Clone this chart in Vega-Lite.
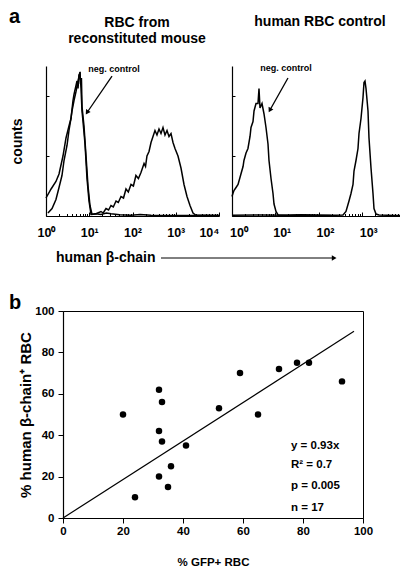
{
  "$schema": "https://vega.github.io/schema/vega-lite/v6.json",
  "padding": {"left": 8, "top": 6, "right": 0, "bottom": 0},
  "background": "white",
  "config": {
    "font": "Liberation Sans",
    "view": {"stroke": null},
    "axis": {"domainColor": "black", "tickColor": "black", "labelColor": "black", "titleColor": "black", "labelFontWeight": "bold", "titleFontWeight": "bold", "grid": false, "labelFont": "Liberation Sans", "titleFont": "Liberation Sans", "domainWidth": 1.2, "tickWidth": 1},
    "text": {"font": "Liberation Sans", "fontWeight": "bold", "color": "black"}
  },
  "datasets": {
    "histL": [
      {"x": 1.0, "c": 12, "s": "neg"}, {"x": 1.31, "c": 18, "s": "neg"}, {"x": 1.7, "c": 23, "s": "neg"}, {"x": 2.0, "c": 28, "s": "neg"}, {"x": 2.47, "c": 40, "s": "neg"}, {"x": 2.9, "c": 52, "s": "neg"}, {"x": 3.4, "c": 60, "s": "neg"}, {"x": 3.78, "c": 65, "s": "neg"}, {"x": 4.21, "c": 77, "s": "neg"}, {"x": 4.44, "c": 81, "s": "neg"}, {"x": 4.94, "c": 87, "s": "neg"}, {"x": 5.21, "c": 90, "s": "neg"}, {"x": 5.5, "c": 85, "s": "neg"}, {"x": 5.79, "c": 94, "s": "neg"}, {"x": 6.11, "c": 95, "s": "neg"}, {"x": 6.45, "c": 85, "s": "neg"}, {"x": 6.8, "c": 70, "s": "neg"}, {"x": 7.17, "c": 63, "s": "neg"}, {"x": 7.98, "c": 48, "s": "neg"}, {"x": 8.87, "c": 25, "s": "neg"}, {"x": 9.87, "c": 10, "s": "neg"}, {"x": 10.97, "c": 1, "s": "neg"}, {"x": 14, "c": 1.5, "s": "neg"}, {"x": 18.7, "c": 1, "s": "neg"}, {"x": 25, "c": 2, "s": "neg"}, {"x": 31.8, "c": 1.5, "s": "neg"}, {"x": 50, "c": 0.8, "s": "neg"}, {"x": 92.6, "c": 0.5, "s": "neg"}, {"x": 150, "c": 1, "s": "neg"}, {"x": 268, "c": 0.5, "s": "neg"}, {"x": 600, "c": 0.3, "s": "neg"}, {"x": 1321, "c": 0.3, "s": "neg"}, {"x": 10000, "c": 0.3, "s": "neg"},
      {"x": 1.11, "c": 2, "s": "sample"}, {"x": 1.38, "c": 5, "s": "sample"}, {"x": 1.7, "c": 11, "s": "sample"}, {"x": 2.0, "c": 19, "s": "sample"}, {"x": 2.34, "c": 27, "s": "sample"}, {"x": 2.61, "c": 37, "s": "sample"}, {"x": 3.06, "c": 47, "s": "sample"}, {"x": 3.4, "c": 57, "s": "sample"}, {"x": 3.78, "c": 65, "s": "sample"}, {"x": 3.99, "c": 70, "s": "sample"}, {"x": 4.44, "c": 77, "s": "sample"}, {"x": 4.94, "c": 83, "s": "sample"}, {"x": 5.5, "c": 90, "s": "sample"}, {"x": 5.79, "c": 93, "s": "sample"}, {"x": 6.11, "c": 96, "s": "sample"}, {"x": 6.3, "c": 88, "s": "sample"}, {"x": 6.6, "c": 92, "s": "sample"}, {"x": 6.8, "c": 73, "s": "sample"}, {"x": 7.56, "c": 60, "s": "sample"}, {"x": 8.42, "c": 40, "s": "sample"}, {"x": 9.36, "c": 20, "s": "sample"}, {"x": 10.4, "c": 7, "s": "sample"}, {"x": 11.6, "c": 1, "s": "sample"}, {"x": 14.3, "c": 1.5, "s": "sample"}, {"x": 18.7, "c": 3, "s": "sample"}, {"x": 21, "c": 2, "s": "sample"}, {"x": 24.4, "c": 5, "s": "sample"}, {"x": 28, "c": 4, "s": "sample"}, {"x": 31.8, "c": 7, "s": "sample"}, {"x": 36, "c": 6, "s": "sample"}, {"x": 41.6, "c": 10, "s": "sample"}, {"x": 47, "c": 9, "s": "sample"}, {"x": 54.2, "c": 13, "s": "sample"}, {"x": 62, "c": 12, "s": "sample"}, {"x": 70.7, "c": 18, "s": "sample"}, {"x": 80, "c": 16, "s": "sample"}, {"x": 92.3, "c": 21, "s": "sample"}, {"x": 105, "c": 20, "s": "sample"}, {"x": 120, "c": 27, "s": "sample"}, {"x": 137, "c": 25, "s": "sample"}, {"x": 157, "c": 29, "s": "sample"}, {"x": 185, "c": 35, "s": "sample"}, {"x": 200, "c": 33, "s": "sample"}, {"x": 216, "c": 40, "s": "sample"}, {"x": 241, "c": 43, "s": "sample"}, {"x": 268, "c": 49, "s": "sample"}, {"x": 298, "c": 53, "s": "sample"}, {"x": 331, "c": 57, "s": "sample"}, {"x": 368, "c": 54, "s": "sample"}, {"x": 410, "c": 58, "s": "sample"}, {"x": 456, "c": 55, "s": "sample"}, {"x": 507, "c": 59, "s": "sample"}, {"x": 564, "c": 54, "s": "sample"}, {"x": 628, "c": 57, "s": "sample"}, {"x": 698, "c": 53, "s": "sample"}, {"x": 777, "c": 55, "s": "sample"}, {"x": 864, "c": 49, "s": "sample"}, {"x": 961, "c": 45, "s": "sample"}, {"x": 1127, "c": 40, "s": "sample"}, {"x": 1322, "c": 32, "s": "sample"}, {"x": 1552, "c": 21, "s": "sample"}, {"x": 1820, "c": 13, "s": "sample"}, {"x": 2136, "c": 7, "s": "sample"}, {"x": 2506, "c": 2, "s": "sample"}, {"x": 2940, "c": 0.5, "s": "sample"}, {"x": 5012, "c": 0.5, "s": "sample"}, {"x": 10000, "c": 0.3, "s": "sample"}
    ],
    "histR": [
      {"x": 1.0, "c": 13, "s": "neg"}, {"x": 1.05, "c": 15, "s": "neg"}, {"x": 1.11, "c": 17, "s": "neg"}, {"x": 1.24, "c": 19, "s": "neg"}, {"x": 1.38, "c": 21, "s": "neg"}, {"x": 1.61, "c": 28, "s": "neg"}, {"x": 1.8, "c": 33, "s": "neg"}, {"x": 1.89, "c": 37, "s": "neg"}, {"x": 2.11, "c": 42, "s": "neg"}, {"x": 2.34, "c": 45, "s": "neg"}, {"x": 2.61, "c": 53, "s": "neg"}, {"x": 2.75, "c": 59, "s": "neg"}, {"x": 3.06, "c": 63, "s": "neg"}, {"x": 3.23, "c": 70, "s": "neg"}, {"x": 3.59, "c": 75, "s": "neg"}, {"x": 3.99, "c": 75, "s": "neg"}, {"x": 4.21, "c": 85, "s": "neg"}, {"x": 4.44, "c": 72, "s": "neg"}, {"x": 4.94, "c": 75, "s": "neg"}, {"x": 5.5, "c": 68, "s": "neg"}, {"x": 6.11, "c": 59, "s": "neg"}, {"x": 6.8, "c": 48, "s": "neg"}, {"x": 7.17, "c": 37, "s": "neg"}, {"x": 7.98, "c": 25, "s": "neg"}, {"x": 8.87, "c": 15, "s": "neg"}, {"x": 9.36, "c": 8, "s": "neg"}, {"x": 10.4, "c": 3, "s": "neg"}, {"x": 11.6, "c": 0.7, "s": "neg"}, {"x": 20, "c": 0.5, "s": "neg"}, {"x": 39.4, "c": 0.7, "s": "neg"}, {"x": 100, "c": 0.5, "s": "neg"}, {"x": 195, "c": 0.3, "s": "neg"},
      {"x": 1.0, "c": 0.5, "s": "sample"}, {"x": 4.7, "c": 0.7, "s": "sample"}, {"x": 20, "c": 0.5, "s": "sample"}, {"x": 39.4, "c": 0.8, "s": "sample"}, {"x": 100, "c": 0.5, "s": "sample"}, {"x": 254, "c": 0.5, "s": "sample"}, {"x": 368, "c": 0.7, "s": "sample"}, {"x": 432, "c": 3, "s": "sample"}, {"x": 507, "c": 10, "s": "sample"}, {"x": 564, "c": 15, "s": "sample"}, {"x": 628, "c": 21, "s": "sample"}, {"x": 662, "c": 30, "s": "sample"}, {"x": 736, "c": 37, "s": "sample"}, {"x": 819, "c": 45, "s": "sample"}, {"x": 864, "c": 55, "s": "sample"}, {"x": 961, "c": 65, "s": "sample"}, {"x": 1069, "c": 79, "s": "sample"}, {"x": 1127, "c": 89, "s": "sample"}, {"x": 1189, "c": 90, "s": "sample"}, {"x": 1254, "c": 85, "s": "sample"}, {"x": 1395, "c": 70, "s": "sample"}, {"x": 1471, "c": 52, "s": "sample"}, {"x": 1637, "c": 32, "s": "sample"}, {"x": 1820, "c": 15, "s": "sample"}, {"x": 1919, "c": 5, "s": "sample"}, {"x": 2136, "c": 1.3, "s": "sample"}, {"x": 2506, "c": 0.7, "s": "sample"}, {"x": 6170, "c": 0.3, "s": "sample"}, {"x": 10000, "c": 0.3, "s": "sample"}
    ],
    "pts": [
      {"gfp": 20, "beta": 50}, {"gfp": 24, "beta": 10}, {"gfp": 32, "beta": 62}, {"gfp": 33, "beta": 56}, {"gfp": 32, "beta": 42}, {"gfp": 33, "beta": 37}, {"gfp": 32, "beta": 20}, {"gfp": 36, "beta": 25}, {"gfp": 35, "beta": 15}, {"gfp": 41, "beta": 35}, {"gfp": 52, "beta": 53}, {"gfp": 59, "beta": 70}, {"gfp": 65, "beta": 50}, {"gfp": 72, "beta": 72}, {"gfp": 78, "beta": 75}, {"gfp": 82, "beta": 75}, {"gfp": 93, "beta": 66}
    ]
  },
  "vconcat": [
    {
      "hconcat": [
        {
          "width": 173,
          "height": 150,
          "layer": [
            {
              "data": {"name": "histL"},
              "mark": {"type": "line", "color": "black", "strokeWidth": 1.5},
              "encoding": {
                "x": {"field": "x", "type": "quantitative", "scale": {"type": "log", "domain": [1, 10000], "nice": false},
                  "axis": {"values": [1,2,3,4,5,6,7,8,9,10,20,30,40,50,60,70,80,90,100,200,300,400,500,600,700,800,900,1000,2000,3000,4000,5000,6000,7000,8000,9000,10000],
                    "labelExpr": "datum.value == 1 ? '10⁰' : datum.value == 10 ? '10¹' : datum.value == 100 ? '10²' : datum.value == 1000 ? '10³' : datum.value == 10000 ? '10⁴' : ''",
                    "labelFontSize": 12.5, "labelPadding": 14, "labelOverlap": false, "labelFlush": false, "labelBound": false,
                    "labelAlign": {"condition": {"test": "datum.value == 10000", "value": "right"}, "value": "center"},
                    "tickSize": {"condition": {"test": "indexof([1,10,100,1000,10000], datum.value) >= 0", "value": -4}, "value": -2.5},
                    "title": null}},
                "y": {"field": "c", "type": "quantitative", "scale": {"domain": [0, 100], "nice": false},
                  "axis": {"values": [0,10,20,30,40,50,60,70,80,90,100], "labels": false, "tickSize": -3, "title": "counts", "titleFontSize": 14, "titlePadding": 21}},
                "detail": {"field": "s"}
              }
            },
            {
              "data": {"values": [{"x": 127, "c": 128.7, "t": "RBC from"}, {"x": 127, "c": 118, "t": "reconstituted mouse"}]},
              "mark": {"type": "text", "fontSize": 14, "align": "center", "baseline": "middle"},
              "encoding": {"x": {"field": "x", "type": "quantitative"}, "y": {"field": "c", "type": "quantitative"}, "text": {"field": "t"}}
            },
            {
              "data": {"values": [{"x": 37.4, "c": 98, "t": "neg. control"}]},
              "mark": {"type": "text", "fontSize": 9, "align": "center", "baseline": "middle"},
              "encoding": {"x": {"field": "x", "type": "quantitative"}, "y": {"field": "c", "type": "quantitative"}, "text": {"field": "t"}}
            },
            {
              "data": {"values": [{"x": 33.6, "c": 93.3, "x2": 8.9, "c2": 69}]},
              "mark": {"type": "rule", "color": "black", "strokeWidth": 1.3},
              "encoding": {"x": {"field": "x", "type": "quantitative"}, "y": {"field": "c", "type": "quantitative"}, "x2": {"field": "x2"}, "y2": {"field": "c2"}}
            },
            {
              "data": {"values": [{"x": 8.9, "c": 69}]},
              "mark": {"type": "point", "shape": "triangle-up", "filled": true, "color": "black", "opacity": 1, "size": 30, "angle": 213},
              "encoding": {"x": {"field": "x", "type": "quantitative"}, "y": {"field": "c", "type": "quantitative"}}
            },
            {
              "data": {"values": [{"x": 1.7, "c": -28, "t": "human β-chain"}]},
              "mark": {"type": "text", "fontSize": 14, "align": "left", "baseline": "middle"},
              "encoding": {"x": {"field": "x", "type": "quantitative"}, "y": {"field": "c", "type": "quantitative"}, "text": {"field": "t"}}
            },
            {
              "data": {"values": [{"x": 456, "c": -28, "x2": 4600000}]},
              "mark": {"type": "rule", "color": "black", "strokeWidth": 1},
              "encoding": {"x": {"field": "x", "type": "quantitative"}, "y": {"field": "c", "type": "quantitative"}, "x2": {"field": "x2"}}
            },
            {
              "data": {"values": [{"x": 4600000, "c": -28}]},
              "mark": {"type": "point", "shape": "triangle-right", "filled": true, "color": "black", "opacity": 1, "size": 30},
              "encoding": {"x": {"field": "x", "type": "quantitative"}, "y": {"field": "c", "type": "quantitative"}}
            },
            {
              "data": {"values": [{"x": 0.1395, "c": 128.7, "t": "a"}]},
              "mark": {"type": "text", "fontSize": 20, "align": "left", "baseline": "alphabetic"},
              "encoding": {"x": {"field": "x", "type": "quantitative"}, "y": {"field": "c", "type": "quantitative"}, "text": {"field": "t"}}
            }
          ]
        },
        {
          "width": 173,
          "height": 150,
          "layer": [
            {
              "data": {"name": "histR"},
              "mark": {"type": "line", "color": "black", "strokeWidth": 1.5},
              "encoding": {
                "x": {"field": "x", "type": "quantitative", "scale": {"type": "log", "domain": [1, 10000], "nice": false},
                  "axis": {"values": [1,2,3,4,5,6,7,8,9,10,20,30,40,50,60,70,80,90,100,200,300,400,500,600,700,800,900,1000,2000,3000,4000,5000,6000,7000,8000,9000,10000],
                    "labelExpr": "datum.value == 1 ? '10⁰' : datum.value == 10 ? '10¹' : datum.value == 100 ? '10²' : datum.value == 1000 ? '10³' : datum.value == 10000 ? '10⁴' : ''",
                    "labelFontSize": 12.5, "labelPadding": 14, "labelOffset": 6.5, "labelOverlap": false, "labelFlush": false, "labelBound": false,
                    "tickSize": {"condition": {"test": "indexof([1,10,100,1000,10000], datum.value) >= 0", "value": -4}, "value": -2.5},
                    "title": null}},
                "y": {"field": "c", "type": "quantitative", "scale": {"domain": [0, 100], "nice": false},
                  "axis": {"values": [0,10,20,30,40,50,60,70,80,90,100], "labels": false, "tickSize": -3, "title": null}},
                "detail": {"field": "s"}
              }
            },
            {
              "data": {"values": [{"x": 108.3, "c": 129.3, "t": "human RBC control"}]},
              "mark": {"type": "text", "fontSize": 14, "align": "center", "baseline": "middle"},
              "encoding": {"x": {"field": "x", "type": "quantitative"}, "y": {"field": "c", "type": "quantitative"}, "text": {"field": "t"}}
            },
            {
              "data": {"values": [{"x": 17.7, "c": 98.7, "t": "neg. control"}]},
              "mark": {"type": "text", "fontSize": 9, "align": "center", "baseline": "middle"},
              "encoding": {"x": {"field": "x", "type": "quantitative"}, "y": {"field": "c", "type": "quantitative"}, "text": {"field": "t"}}
            },
            {
              "data": {"values": [{"x": 19.7, "c": 92, "x2": 7.5, "c2": 70.5}]},
              "mark": {"type": "rule", "color": "black", "strokeWidth": 1.3},
              "encoding": {"x": {"field": "x", "type": "quantitative"}, "y": {"field": "c", "type": "quantitative"}, "x2": {"field": "x2"}, "y2": {"field": "c2"}}
            },
            {
              "data": {"values": [{"x": 7.5, "c": 70.5}]},
              "mark": {"type": "point", "shape": "triangle-up", "filled": true, "color": "black", "opacity": 1, "size": 30, "angle": 208},
              "encoding": {"x": {"field": "x", "type": "quantitative"}, "y": {"field": "c", "type": "quantitative"}}
            }
          ]
        }
      ],
      "spacing": 13,
      "bounds": "flush"
    },
    {
      "hconcat": [
        {
          "width": 1,
          "height": 1,
          "data": {"values": []},
          "mark": {"type": "point", "opacity": 0}
        },
        {
          "width": 300,
          "height": 207,
          "view": {"stroke": "black", "strokeWidth": 1},
          "layer": [
            {
              "data": {"name": "pts"},
              "mark": {"type": "circle", "color": "black", "opacity": 1, "size": 42},
              "encoding": {
                "x": {"field": "gfp", "type": "quantitative", "scale": {"domain": [0, 100], "nice": false},
                  "axis": {"values": [0,10,20,30,40,50,60,70,80,90,100], "labelExpr": "datum.value % 20 == 0 ? datum.label : ''", "labelFontSize": 11.5, "labelPadding": 2, "labelOverlap": false, "labelFlush": false,
                    "tickSize": {"condition": {"test": "datum.value % 20 == 0", "value": 5}, "value": 3},
                    "title": "% GFP+ RBC", "titleFontSize": 11.5, "titlePadding": 20}},
                "y": {"field": "beta", "type": "quantitative", "scale": {"domain": [0, 100], "nice": false},
                  "axis": {"values": [0,10,20,30,40,50,60,70,80,90,100], "labelExpr": "datum.value % 20 == 0 ? datum.label : ''", "labelFontSize": 11.5, "labelPadding": 4, "labelOverlap": false, "labelFlush": false,
                    "tickSize": {"condition": {"test": "datum.value % 20 == 0", "value": 5}, "value": 3},
                    "title": "% human β-chain⁺ RBC", "titleFontSize": 15, "titlePadding": 1}}
              }
            },
            {
              "data": {"values": [{"gfp": 0, "beta": 0}, {"gfp": 97, "beta": 90.2}]},
              "mark": {"type": "line", "color": "black", "strokeWidth": 1.2},
              "encoding": {"x": {"field": "gfp", "type": "quantitative"}, "y": {"field": "beta", "type": "quantitative"}}
            },
            {
              "data": {"values": [{"gfp": 76, "beta": 35, "t": "y = 0.93x"}, {"gfp": 76, "beta": 25.5, "t": "R² = 0.7"}, {"gfp": 76, "beta": 15.5, "t": "p = 0.005"}, {"gfp": 76, "beta": 5, "t": "n = 17"}]},
              "mark": {"type": "text", "fontSize": 11.5, "align": "left", "baseline": "middle"},
              "encoding": {"x": {"field": "gfp", "type": "quantitative"}, "y": {"field": "beta", "type": "quantitative"}, "text": {"field": "t"}}
            },
            {
              "data": {"values": [{"gfp": -18, "beta": 101, "t": "b"}]},
              "mark": {"type": "text", "fontSize": 20, "align": "left", "baseline": "alphabetic"},
              "encoding": {"x": {"field": "gfp", "type": "quantitative"}, "y": {"field": "beta", "type": "quantitative"}, "text": {"field": "t"}}
            }
          ]
        }
      ],
      "spacing": 16,
      "bounds": "flush"
    }
  ],
  "spacing": 27
}
